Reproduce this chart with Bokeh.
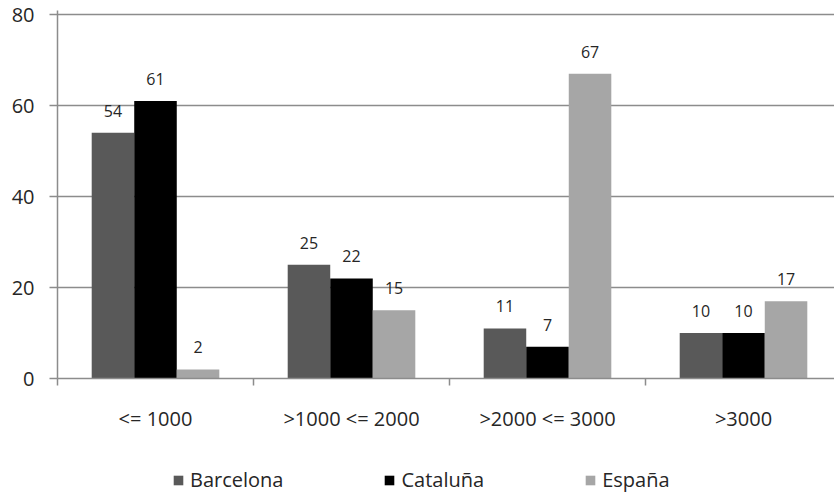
from bokeh.plotting import figure
from bokeh.layouts import column
from bokeh.models import Range1d, FixedTicker, Legend, LegendItem, ColumnDataSource
from bokeh.core.properties import value
from bokeh.embed import file_html
from bokeh.resources import INLINE
import numpy as np

# Data
categories = ["<= 1000", ">1000 <= 2000", ">2000 <= 3000", ">3000"]
series = ["Barcelona", "Cataluña", "España"]
barcelona = [54, 25, 11, 10]
cataluna = [61, 22, 7, 10]
espana = [2, 15, 67, 17]
y_ticks = [0, 20, 40, 60, 80]

colors = ["#595959", "#000000", "#a6a6a6"]
FONT = "Open Sans"
TEXT_COLOR = "#262626"
GRID_COLOR = "#8c8c8c"

W = 834
CHART_H, LEGEND_H = 453, 40
LEFT, TOP, BOTTOM = 57, 10, 75
CAT_PX = 196.0  # width of one category slot in pixels

p = figure(
    width=W, height=CHART_H, output_backend="svg", toolbar_location=None,
    x_range=Range1d(0, (W - LEFT) / CAT_PX),
    y_range=Range1d(0, 80 + 4 / 4.55),
    min_border_left=LEFT, min_border_right=0,
    min_border_top=TOP, min_border_bottom=BOTTOM,
)
p.outline_line_color = None
p.background_fill_color = "white"
p.border_fill_color = "white"

# Grouped bars with value labels
bar_w = 0.217
centers = np.arange(len(categories)) + 0.5
for i, (name, vals, col) in enumerate(zip(series, [barcelona, cataluna, espana], colors)):
    xs = centers + (i - 1) * bar_w
    src = ColumnDataSource(dict(x=xs, top=vals, lab=[str(v) for v in vals]))
    p.vbar(x="x", top="top", width=bar_w, bottom=0, source=src,
           fill_color=col, line_color=None)
    p.text(x="x", y="top", text="lab", source=src, text_align="center",
           text_baseline="middle", y_offset=-22, text_font=value(FONT),
           text_font_size="16px", text_color=TEXT_COLOR)

# Axes
p.xaxis.ticker = FixedTicker(ticks=list(centers), minor_ticks=list(range(len(categories) + 1)))
p.xaxis.major_label_overrides = {float(c): lab for c, lab in zip(centers, categories)}
p.xaxis.major_tick_out = 0
p.xaxis.major_tick_in = 0
p.xaxis.minor_tick_out = 7
p.xaxis.minor_tick_in = 0
p.xaxis.minor_tick_line_color = GRID_COLOR
p.xaxis.minor_tick_line_width = 1.5
p.xaxis.major_label_standoff = 19
p.xaxis.axis_line_color = GRID_COLOR
p.xaxis.axis_line_width = 1.5

p.yaxis.ticker = FixedTicker(ticks=y_ticks)
p.yaxis.major_tick_out = 8
p.yaxis.major_tick_in = 0
p.yaxis.minor_tick_line_color = None
p.yaxis.major_tick_line_color = GRID_COLOR
p.yaxis.major_tick_line_width = 1.5
p.yaxis.major_label_standoff = 15
p.yaxis.axis_line_color = GRID_COLOR
p.yaxis.axis_line_width = 1.5

for ax in (p.xaxis, p.yaxis):
    ax.major_label_text_font = FONT
    ax.major_label_text_font_size = "20px"
    ax.major_label_text_color = TEXT_COLOR

p.xgrid.visible = False
p.ygrid.grid_line_color = GRID_COLOR
p.ygrid.grid_line_width = 1.5

# Legend strip under the chart (its frame lines up with the chart frame)
leg = figure(
    width=W, height=LEGEND_H, output_backend="svg", toolbar_location=None,
    x_range=Range1d(0, 1), y_range=Range1d(0, 1),
    x_axis_location=None, y_axis_location=None,
    min_border=0, min_border_left=0, min_border_right=0,
    min_border_top=0, min_border_bottom=0,
)
leg.outline_line_color = None
leg.grid.visible = False
# hidden swatch renderers: only their legend glyphs are drawn
leg_renderers = []
for c in colors:
    r = leg.vbar(x=[0.5], top=[1], width=0.1, fill_color=c, line_color=None)
    r.visible = False
    leg_renderers.append(r)

legend = Legend(
    items=[LegendItem(label=s, renderers=[r]) for s, r in zip(series, leg_renderers)],
    orientation="horizontal", location=(115, 0),
    glyph_width=12, glyph_height=12, label_standoff=6,
    spacing=100, padding=0, margin=0,
    border_line_alpha=0, background_fill_alpha=0,
    inactive_fill_alpha=0,
    label_text_font=FONT, label_text_font_size="20px", label_text_color=TEXT_COLOR,
)
leg.add_layout(legend)

layout = column(p, leg, spacing=0)
open("out.html", "w").write(file_html(layout, INLINE))
